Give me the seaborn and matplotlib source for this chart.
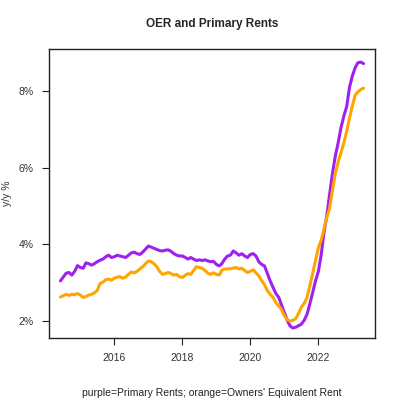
import pandas as pd
import numpy as np
import matplotlib
matplotlib.use("Agg")
import matplotlib.pyplot as plt
import matplotlib.dates as mdates
import seaborn as sns

# monthly y/y % readings, Jun 2014 .. May 2023
months = pd.date_range("2014-06-01", periods=108, freq="MS")

primary_rents = [
    3.05, 3.15, 3.25, 3.27, 3.20, 3.30, 3.45, 3.40, 3.38, 3.52, 3.50, 3.46,
    3.50, 3.55, 3.59, 3.62, 3.68, 3.72, 3.66, 3.68, 3.72, 3.70, 3.68, 3.66,
    3.72, 3.78, 3.80, 3.76, 3.74, 3.80, 3.88, 3.96, 3.93, 3.90, 3.87, 3.84,
    3.83, 3.85, 3.86, 3.82, 3.76, 3.72, 3.70, 3.70, 3.66, 3.62, 3.66, 3.62,
    3.58, 3.60, 3.58, 3.60, 3.57, 3.55, 3.56, 3.48, 3.44, 3.50, 3.62, 3.70,
    3.72, 3.83, 3.78, 3.72, 3.76, 3.70, 3.66, 3.74, 3.76, 3.70, 3.55, 3.48,
    3.44, 3.25, 3.05, 2.88, 2.72, 2.62, 2.42, 2.22, 2.02, 1.88, 1.82, 1.84,
    1.88, 1.92, 2.02, 2.18, 2.45, 2.75, 3.05, 3.30, 3.75, 4.30, 4.75, 5.30,
    5.85, 6.30, 6.65, 7.05, 7.35, 7.60, 8.10, 8.40, 8.62, 8.74, 8.76, 8.72,
]

oer = [
    2.63, 2.66, 2.70, 2.67, 2.70, 2.69, 2.72, 2.68, 2.62, 2.64, 2.68, 2.70,
    2.74, 2.80, 2.98, 3.02, 3.08, 3.10, 3.07, 3.12, 3.15, 3.16, 3.12, 3.15,
    3.22, 3.28, 3.26, 3.30, 3.36, 3.42, 3.50, 3.57, 3.55, 3.50, 3.42, 3.30,
    3.22, 3.24, 3.27, 3.24, 3.20, 3.22, 3.16, 3.14, 3.20, 3.24, 3.22, 3.32,
    3.42, 3.40, 3.38, 3.32, 3.25, 3.22, 3.26, 3.22, 3.20, 3.33, 3.36, 3.36,
    3.37, 3.38, 3.40, 3.36, 3.38, 3.32, 3.27, 3.30, 3.34, 3.26, 3.18, 3.06,
    2.95, 2.80, 2.70, 2.62, 2.48, 2.40, 2.30, 2.14, 2.04, 2.00, 2.02, 2.06,
    2.20, 2.36, 2.46, 2.62, 2.92, 3.25, 3.58, 3.92, 4.12, 4.40, 4.70, 4.95,
    5.40, 5.85, 6.15, 6.40, 6.65, 6.95, 7.30, 7.62, 7.90, 7.98, 8.04, 8.08,
]

y_ticks = [2, 4, 6, 8]
y_labels = ["2%", "4%", "6%", "8%"]

df = pd.DataFrame({"date": months, "Primary Rents": primary_rents, "OER": oer})

sns.set_style("ticks")
plt.rcParams["font.family"] = ["Liberation Sans", "DejaVu Sans"]

fig = plt.figure(figsize=(4, 4), dpi=100)
ax = fig.add_axes([0.1225, 0.155, 0.815, 0.7225])

sns.lineplot(data=df, x="date", y="Primary Rents", color="#A020F0", linewidth=2.2, ax=ax)
sns.lineplot(data=df, x="date", y="OER", color="#FFA500", linewidth=2.2, ax=ax)

ax.set_xlim(pd.Timestamp("2014-01-29"), pd.Timestamp("2023-09-01"))
ax.set_ylim(1.56, 9.1)
ax.xaxis.set_major_locator(mdates.YearLocator(2))
ax.xaxis.set_major_formatter(mdates.DateFormatter("%Y"))
ax.set_yticks(y_ticks)
ax.set_yticklabels(y_labels)

for s in ax.spines.values():
    s.set_visible(True)
    s.set_color("#222222")
    s.set_linewidth(1.0)
ax.tick_params(axis="both", direction="out", length=5, width=0.8, color="#222222",
               labelsize=7.5, labelcolor="#333333", pad=6)

ax.set_title("OER and Primary Rents", fontsize=8.5, fontweight="bold", pad=16)
ax.set_ylabel("y/y %", fontsize=7.5, color="#333333", labelpad=5)
ax.set_xlabel("purple=Primary Rents; orange=Owners' Equivalent Rent", fontsize=7.5,
              color="#222222", labelpad=18)

fig.savefig("out.png", dpi=100)
